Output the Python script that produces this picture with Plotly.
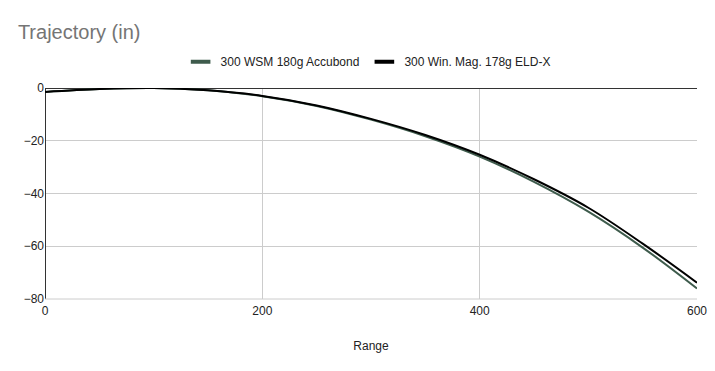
import plotly.graph_objects as go

ranges = [0, 50, 100, 150, 200, 250, 300, 350, 400, 450, 500, 550, 600]
wsm_accubond = [-1.5, -0.4, 0.0, -0.9, -3.1, -6.8, -12.0, -18.3, -26.0, -35.6, -46.9, -60.5, -76.0]
winmag_eldx = [-1.5, -0.4, 0.0, -0.9, -3.0, -6.6, -11.7, -17.8, -25.3, -34.6, -45.4, -59.0, -73.8]
names = ["300 WSM 180g Accubond", "300 Win. Mag. 178g ELD-X"]
colors = ["#3e5b4c", "#000000"]

fig = go.Figure()
for name, ys, c in zip(names, [wsm_accubond, winmag_eldx], colors):
    fig.add_trace(go.Scatter(x=ranges, y=ys, name=name, mode="lines", showlegend=False,
                             line=dict(color=c, width=2, shape="spline")))
    # legend entry drawn as short thick dash
    fig.add_trace(go.Scatter(x=[None], y=[None], name=name, mode="markers",
                             marker=dict(symbol="line-ew-open", size=14, color=c,
                                         line=dict(color=c, width=4))))

fig.update_layout(
    width=715, height=371,
    margin=dict(l=45, r=18, t=88, b=72, autoexpand=False),
    paper_bgcolor="white", plot_bgcolor="white",
    font=dict(family="Liberation Sans, Arial, sans-serif", size=12, color="#222222"),
    title=dict(text="Trajectory (in)", x=0.025, xanchor="left", y=0.915, yanchor="middle",
               yref="container", font=dict(size=20, color="#757575")),
    legend=dict(orientation="h", x=0.208, xanchor="left", y=1.125, yanchor="middle",
                font=dict(size=12, color="#222222"), itemwidth=30, tracegroupgap=0),
    showlegend=True,
)
fig.update_xaxes(range=[0, 600], tickvals=[0, 200, 400, 600], showgrid=True,
                 gridcolor="#cccccc", gridwidth=1, zeroline=True, zerolinecolor="#333333",
                 zerolinewidth=1, showline=False, ticks="", automargin=False,
                 ticklabelstandoff=3,
                 title=dict(text="Range", font=dict(size=12, color="#222222"), standoff=24),
                 tickfont=dict(size=12, color="#222222"))
fig.update_yaxes(range=[-80, 0], tickvals=[0, -20, -40, -60, -80], showgrid=True,
                 gridcolor="#cccccc", gridwidth=1, zeroline=True, zerolinecolor="#333333",
                 zerolinewidth=1, showline=False, ticks="", automargin=False,
                 tickfont=dict(size=12, color="#222222"))
fig.add_shape(type="line", xref="paper", yref="paper", x0=0, x1=1, y0=0, y1=0,
              line=dict(color="#cccccc", width=1))
fig.write_html("out.html", config={"displayModeBar": False},
               post_script="document.body.style.margin='0';")
